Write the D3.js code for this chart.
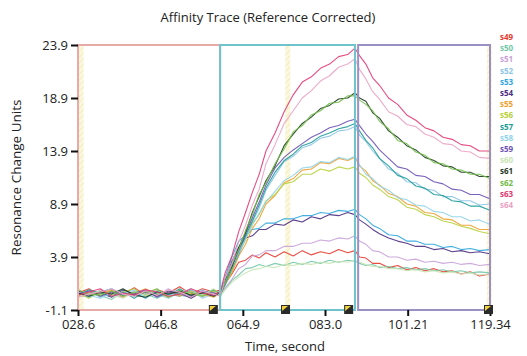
<!DOCTYPE html>
<html>
<head>
<meta charset="utf-8">
<script src="https://cdn.jsdelivr.net/npm/d3@7"></script>
<style>
  body { margin: 0; background: #fff; }
  svg text { font-family: "Open Sans", "Noto Sans", sans-serif; }
</style>
</head>
<body>
<div id="chart"></div>
<script>
// time points (seconds) shared by every trace
const times = [28.6, 31, 33.5, 36, 38.5, 41, 43.5, 46, 48.5, 51, 53.5, 56, 58.5, 60,
  61, 62.5, 64, 65.5, 67, 68.5, 70, 72, 74, 76, 78, 80, 82, 84, 86, 88, 89.6,
  90.6, 92, 93.5, 95, 97, 99, 101, 103, 105, 107, 109, 111, 113, 115, 117, 119.3];

const seriesNames = ['s49', 's50', 's51', 's52', 's53', 's54', 's55', 's56',
  's57', 's58', 's59', 's60', 's61', 's62', 's63', 's64'];
const seriesColors = ['#e8382c', '#72c8a8', '#c9a2d8', '#8cc4e6', '#2fa6de', '#4a2c82', '#f0a030', '#b8d03a',
  '#1c9c98', '#8fd3ea', '#6c52b4', '#c8e4b4', '#1e3a1e', '#70bc48', '#e23a74', '#eaa2c4'];

// resonance values (baseline | association | dissociation)
const s49 = [0.5, 0.9, 0.2, 0.7, 0.4, 1.0, 0.3, 0.8, 0.5, 1.1, 0.4, 0.9, 0.6, 0.8,
  1.4, 2.3, 3.4, 3.6, 4.1, 3.8, 4.3, 3.9, 4.4, 4.0, 4.5, 4.1, 4.4, 4.2, 4.6, 4.3, 4.5,
  3.9, 3.8, 3.3, 3.3, 2.9, 3.1, 2.7, 2.9, 2.6, 2.8, 2.5, 2.6, 2.3, 2.5, 2.1, 2.3];
const s50 = [0.1, 0.5, 0.3, -0.1, 0.6, 0.2, 0.4, 0.0, 0.5, 0.3, 0.1, 0.6, 0.2, 0.4,
  0.9, 1.7, 2.2, 2.8, 2.9, 3.2, 3.0, 3.3, 3.1, 3.4, 3.2, 3.5, 3.3, 3.6, 3.4, 3.6, 3.5,
  3.3, 3.1, 3.2, 2.9, 3.0, 2.8, 2.9, 2.7, 2.8, 2.6, 2.7, 2.5, 2.6, 2.4, 2.5, 2.4];
const s51 = [0.6, 0.2, 0.8, 0.4, 0.1, 0.7, 0.5, 0.2, 0.9, 0.3, 0.6, 0.1, 0.7, 0.5,
  1.0, 1.8, 2.8, 3.2, 4.0, 4.1, 4.5, 4.5, 4.9, 4.9, 5.2, 5.2, 5.5, 5.4, 5.7, 5.6, 5.9,
  5.4, 5.1, 4.5, 4.4, 3.9, 3.9, 3.6, 3.7, 3.4, 3.5, 3.3, 3.4, 3.2, 3.3, 3.1, 3.2];
const s52 = [0.3, 0.7, 0.1, 0.5, 0.8, 0.2, 0.6, 0.4, 0.0, 0.6, 0.3, 0.8, 0.2, 0.5,
  1.2, 2.6, 4.1, 5.6, 7.2, 8.5, 10.2, 11.6, 12.9, 13.4, 14.2, 14.5, 15.1, 15.3, 15.8, 15.9, 16.2,
  15.4, 14.8, 13.9, 13.2, 12.2, 11.8, 11.0, 10.9, 10.3, 10.2, 9.6, 9.6, 9.2, 9.2, 8.8, 8.9];
const s53 = [0.4, 0.1, 0.6, 0.9, 0.3, 0.5, 0.0, 0.7, 0.4, 0.2, 0.8, 0.3, 0.5, 0.6,
  2.0, 3.9, 5.4, 5.9, 6.5, 6.6, 7.1, 7.1, 7.5, 7.5, 7.8, 7.8, 8.1, 8.0, 8.3, 8.2, 8.4,
  7.9, 7.5, 6.9, 6.6, 6.0, 5.9, 5.4, 5.4, 5.1, 5.1, 4.8, 4.9, 4.6, 4.7, 4.5, 4.6];
const s54 = [0.7, 0.3, 0.5, 0.1, 0.8, 0.4, 0.6, 0.2, 0.7, 0.5, 0.0, 0.6, 0.3, 0.5,
  1.6, 3.5, 4.8, 5.7, 5.9, 6.5, 6.5, 7.0, 6.9, 7.4, 7.2, 7.7, 7.5, 7.9, 7.8, 8.1, 7.9,
  7.4, 7.0, 6.5, 6.1, 5.7, 5.4, 5.2, 4.9, 4.9, 4.6, 4.7, 4.4, 4.5, 4.3, 4.4, 4.2];
const s55 = [0.2, 0.6, 0.4, 0.8, 0.1, 0.5, 0.9, 0.3, 0.6, 0.2, 0.7, 0.4, 0.1, 0.5,
  1.3, 2.4, 4.0, 5.1, 6.6, 7.5, 8.9, 9.7, 10.9, 11.3, 12.1, 12.2, 12.8, 12.7, 13.2, 13.0, 13.3,
  12.5, 12.0, 11.1, 10.7, 9.9, 9.6, 8.9, 8.7, 8.1, 8.0, 7.5, 7.4, 6.9, 6.9, 6.5, 6.5];
const s56 = [0.5, 0.0, 0.7, 0.3, 0.6, 0.9, 0.2, 0.5, 0.1, 0.8, 0.4, 0.2, 0.7, 0.3,
  1.4, 2.6, 4.4, 5.5, 7.1, 7.9, 9.2, 9.8, 10.8, 11.0, 11.7, 11.7, 12.2, 12.0, 12.4, 12.2, 12.4,
  11.8, 11.4, 10.7, 10.3, 9.6, 9.3, 8.6, 8.4, 7.9, 7.7, 7.3, 7.1, 6.8, 6.6, 6.3, 6.1];
const s57 = [0.3, 0.8, 0.5, 0.2, 0.6, 0.0, 0.7, 0.4, 0.3, 0.9, 0.2, 0.5, 0.8, 0.4,
  1.3, 2.8, 4.2, 5.9, 7.3, 8.8, 10.4, 11.9, 13.0, 13.6, 14.4, 14.7, 15.3, 15.6, 16.0, 16.2, 16.5,
  15.8, 14.9, 14.2, 13.2, 12.5, 11.6, 11.3, 10.6, 10.4, 9.8, 9.7, 9.2, 9.1, 8.7, 8.7, 8.3];
const s58 = [0.6, 0.3, 0.0, 0.5, 0.4, 0.8, 0.1, 0.6, 0.3, 0.5, 0.9, 0.0, 0.4, 0.6,
  1.5, 2.9, 4.3, 5.6, 6.9, 8.0, 9.1, 10.1, 11.1, 11.6, 12.3, 12.4, 12.9, 12.8, 13.3, 13.1, 13.4,
  12.6, 11.7, 11.3, 10.6, 10.2, 9.5, 9.3, 8.8, 8.7, 8.2, 8.1, 7.7, 7.7, 7.3, 7.4, 7.0];
const s59 = [0.4, 0.7, 0.2, 0.6, 0.3, 0.5, 0.8, 0.1, 0.6, 0.4, 0.2, 0.7, 0.5, 0.3,
  1.5, 3.0, 4.5, 6.1, 7.6, 9.1, 10.7, 12.3, 13.3, 14.0, 14.6, 15.2, 15.6, 16.1, 16.3, 16.7, 16.9,
  16.3, 15.5, 14.8, 14.0, 13.2, 12.4, 12.2, 11.6, 11.5, 11.0, 10.8, 10.3, 10.2, 9.8, 9.8, 9.4];
const s60 = [0.2, 0.4, 0.7, 0.3, 0.0, 0.6, 0.3, 0.8, 0.2, 0.4, 0.6, 0.3, 0.9, 0.2,
  0.8, 1.5, 2.0, 2.4, 2.7, 2.8, 3.0, 2.9, 3.2, 3.1, 3.3, 3.2, 3.4, 3.3, 3.5, 3.4, 3.6,
  3.4, 3.2, 3.0, 3.0, 2.8, 2.8, 2.6, 2.7, 2.5, 2.6, 2.4, 2.5, 2.3, 2.4, 2.2, 2.3];
const s61 = [0.5, 0.2, 0.6, 0.4, 0.9, 0.3, 0.1, 0.6, 0.4, 0.7, 0.3, 0.5, 0.2, 0.6,
  1.7, 3.0, 4.8, 6.2, 8.1, 9.6, 11.1, 12.5, 14.4, 15.5, 16.5, 17.1, 17.9, 18.2, 18.8, 18.9, 19.4,
  18.9, 18.6, 17.5, 17.0, 15.8, 15.2, 14.4, 14.0, 13.3, 13.0, 12.5, 12.4, 11.9, 11.9, 11.5, 11.5];
const s62 = [0.8, 0.4, 0.3, 0.7, 0.2, 0.6, 0.5, 0.9, 0.1, 0.5, 0.6, 0.2, 0.8, 0.4,
  1.5, 3.2, 4.6, 6.4, 7.9, 9.8, 10.9, 12.7, 14.1, 15.7, 16.3, 17.3, 17.7, 18.4, 18.5, 19.1, 19.1,
  18.7, 18.3, 17.7, 16.7, 16.0, 14.9, 14.6, 13.8, 13.5, 12.8, 12.7, 12.2, 12.1, 11.7, 11.7, 11.3];
const s63 = [0.3, 0.6, 0.9, 0.2, 0.5, 0.3, 0.8, 0.6, 0.2, 0.4, 0.9, 0.5, 0.3, 0.7,
  2.4, 4.0, 6.3, 8.1, 10.0, 11.7, 13.9, 15.6, 17.6, 19.2, 20.4, 20.9, 21.7, 22.1, 22.8, 23.0, 23.6,
  22.9, 22.1, 20.8, 20.1, 18.9, 18.3, 17.3, 16.8, 16.1, 15.8, 15.2, 15.0, 14.5, 14.4, 13.9, 13.9];
const s64 = [0.1, 0.4, 0.6, 0.9, 0.4, 0.2, 0.7, 0.3, 0.8, 0.6, 0.1, 0.7, 0.4, 0.2,
  1.9, 3.3, 5.3, 6.9, 8.8, 10.3, 12.7, 14.5, 16.5, 17.7, 18.9, 19.6, 20.5, 21.0, 21.8, 22.1, 22.6,
  21.6, 20.7, 19.5, 18.8, 17.6, 17.2, 16.4, 16.2, 15.5, 15.2, 14.6, 14.5, 13.9, 13.8, 13.3, 13.2];
const seriesValues = [s49, s50, s51, s52, s53, s54, s55, s56, s57, s58, s59, s60, s61, s62, s63, s64];

// axis ticks
const xTickValues = [28.6, 46.8, 64.9, 83.0, 101.21, 119.34];
const xTickLabels = ['028.6', '046.8', '064.9', '083.0', '101.21', '119.34'];
const yTickValues = [-1.1, 3.9, 8.9, 13.9, 18.9, 23.9];
const yTickLabels = ['-1.1', '3.9', '8.9', '13.9', '18.9', '23.9'];

// phases: baseline, association, dissociation
const phaseStart = [28.6, 59.9, 90.3];
const phaseEnd = [59.9, 89.6, 119.34];
const phaseColors = ['#e8aaa6', '#6fc4cc', '#9a90c4'];

// yellow cursor bands and event markers
const cursorTimes = [29.3, 74.8, 119.2];
const markerTimes = [58.3, 74.2, 88.1, 118.9];

const width = 527, height = 356;
const margin = { top: 45, right: 37, bottom: 46, left: 78 };

const svg = d3.select('#chart').append('svg')
  .attr('width', width)
  .attr('height', height);

const x = d3.scaleLinear().domain([28.6, 119.34]).range([margin.left, width - margin.right]);
const y = d3.scaleLinear().domain([-1.1, 23.9]).range([height - margin.bottom, margin.top]);

// hatch pattern for cursor bands
const defs = svg.append('defs');
const pat = defs.append('pattern')
  .attr('id', 'hatch')
  .attr('width', 4).attr('height', 4)
  .attr('patternUnits', 'userSpaceOnUse')
  .attr('patternTransform', 'rotate(45)');
pat.append('rect').attr('width', 4).attr('height', 4).attr('fill', '#fbf8e0');
pat.append('line').attr('x1', 0).attr('y1', 0).attr('x2', 0).attr('y2', 4)
  .attr('stroke', '#eee4a6').attr('stroke-width', 1.2);

// cursor bands
svg.append('g').selectAll('rect')
  .data(cursorTimes)
  .enter().append('rect')
  .attr('x', d => x(d) - 2.5)
  .attr('y', y(23.9))
  .attr('width', 5)
  .attr('height', y(-1.1) - y(23.9))
  .attr('fill', 'url(#hatch)');

// traces
const line = d3.line()
  .x((d, i) => x(times[i]))
  .y(d => y(d));

svg.append('g').attr('class', 'traces')
  .selectAll('path')
  .data(seriesValues)
  .enter().append('path')
  .attr('d', line)
  .attr('fill', 'none')
  .attr('stroke', (d, i) => seriesColors[i])
  .attr('stroke-width', 1.1)
  .attr('stroke-opacity', 0.9)
  .attr('stroke-linejoin', 'round');

// phase frames
svg.append('g').selectAll('rect')
  .data(phaseStart)
  .enter().append('rect')
  .attr('x', d => x(d))
  .attr('y', y(23.9))
  .attr('width', (d, i) => x(phaseEnd[i]) - x(d))
  .attr('height', y(-1.1) - y(23.9))
  .attr('fill', 'none')
  .attr('stroke', (d, i) => phaseColors[i])
  .attr('stroke-width', 2);

// axes
const xAxis = svg.append('g')
  .attr('transform', `translate(0, ${y(-1.1)})`)
  .call(d3.axisBottom(x).tickValues(xTickValues).tickSize(6).tickPadding(4)
    .tickFormat((d, i) => xTickLabels[i]));
const yAxis = svg.append('g')
  .attr('transform', `translate(${margin.left}, 0)`)
  .call(d3.axisLeft(y).tickValues(yTickValues).tickSize(7).tickPadding(3)
    .tickFormat((d, i) => yTickLabels[i]));

[xAxis, yAxis].forEach(a => {
  a.select('.domain').remove();
  a.selectAll('.tick line').attr('stroke', '#111').attr('stroke-width', 2);
  a.selectAll('.tick text').attr('fill', '#222').attr('font-size', 13)
    .attr('font-family', '"Open Sans", sans-serif');
});

// event markers along the bottom
const markers = svg.append('g').selectAll('g')
  .data(markerTimes)
  .enter().append('g')
  .attr('transform', d => `translate(${x(d) - 4}, ${y(-1.1) - 5})`);
markers.append('rect').attr('width', 9).attr('height', 9).attr('fill', '#2a2a2a');
markers.append('path').attr('d', 'M1,1 L7,1 L1,6 Z').attr('fill', '#f2d23a');

// titles
svg.append('text')
  .attr('x', 268).attr('y', 22)
  .attr('text-anchor', 'middle')
  .attr('font-size', 13)
  .attr('fill', '#222')
  .text('Affinity Trace (Reference Corrected)');

svg.append('text')
  .attr('x', 285).attr('y', 351)
  .attr('text-anchor', 'middle')
  .attr('font-size', 13)
  .attr('fill', '#222')
  .text('Time, second');

svg.append('text')
  .attr('transform', `translate(21, ${(y(-1.1) + y(23.9)) / 2}) rotate(-90)`)
  .attr('text-anchor', 'middle')
  .attr('font-size', 13.5)
  .attr('fill', '#222')
  .text('Resonance Change Units');

// legend
svg.append('g').selectAll('text')
  .data(seriesNames)
  .enter().append('text')
  .attr('x', 500)
  .attr('y', (d, i) => 40 + i * 11.2)
  .attr('font-size', 8)
  .attr('font-weight', 'bold')
  .attr('font-family', '"Liberation Sans Narrow", "DejaVu Sans Condensed", sans-serif')
  .attr('fill', (d, i) => seriesColors[i])
  .text(d => d);
</script>
</body>
</html>
